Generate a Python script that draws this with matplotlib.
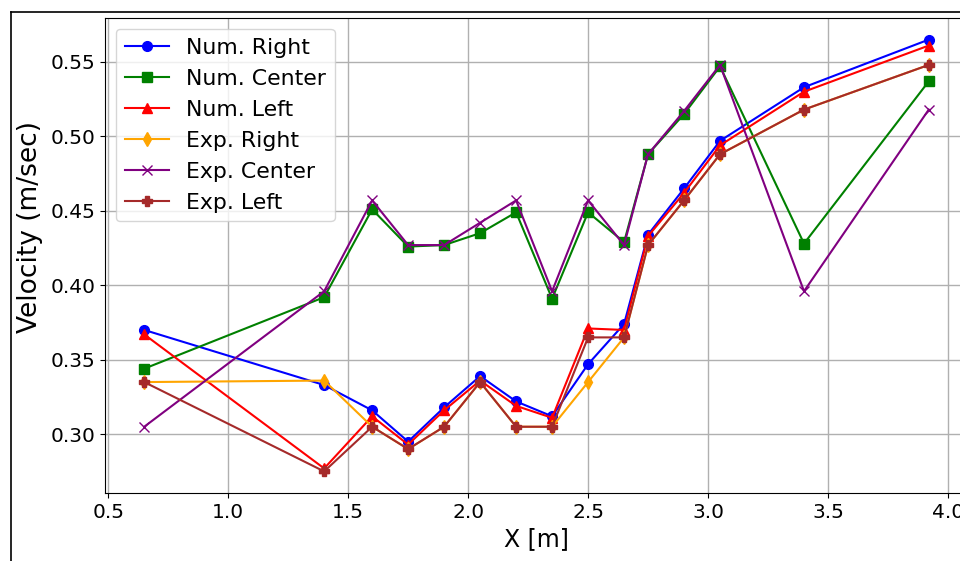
import matplotlib
matplotlib.use('Agg')
from matplotlib import pyplot as plt
from matplotlib.lines import Line2D

x = [0.65, 1.4, 1.6, 1.75, 1.9, 2.05, 2.2, 2.35, 2.5, 2.65, 2.75, 2.9, 3.05, 3.4, 3.92]

num_right = [0.370, 0.333, 0.316, 0.295, 0.318, 0.339, 0.322, 0.312, 0.347, 0.374,
             0.434, 0.465, 0.497, 0.533, 0.565]
num_center = [0.344, 0.392, 0.451, 0.426, 0.427, 0.435, 0.449, 0.391, 0.449, 0.429,
              0.488, 0.515, 0.547, 0.428, 0.537]
num_left = [0.367, 0.277, 0.312, 0.293, 0.316, 0.336, 0.319, 0.311, 0.371, 0.370,
            0.433, 0.462, 0.494, 0.530, 0.561]
exp_right = [0.335, 0.336, 0.305, 0.290, 0.305, 0.335, 0.305, 0.305, 0.335, 0.365,
             0.427, 0.457, 0.488, 0.518, 0.548]
exp_center = [0.305, 0.396, 0.457, 0.427, 0.427, 0.442, 0.457, 0.396, 0.457, 0.427,
              0.488, 0.517, 0.548, 0.396, 0.518]
exp_left = [0.335, 0.275, 0.305, 0.290, 0.305, 0.335, 0.305, 0.305, 0.365, 0.365,
            0.427, 0.457, 0.488, 0.518, 0.548]

series = [
    ("Num. Right", num_right, "blue", "o"),
    ("Num. Center", num_center, "green", "s"),
    ("Num. Left", num_left, "red", "^"),
    ("Exp. Right", exp_right, "orange", "d"),
    ("Exp. Center", exp_center, "purple", "x"),
    ("Exp. Left", exp_left, "brown", "P"),
]


def plot():
    fig = plt.figure(figsize=(9.6, 5.61), dpi=100)
    ax = fig.add_axes([105 / 960, 1 - 493 / 561, 863 / 960, 475 / 561])

    for label, y, color, marker in series:
        ax.plot(x, y, color=color, marker=marker, markersize=7, linewidth=1.5, label=label)

    ax.grid(True, color='#b0b0b0', linewidth=1.0)
    ax.tick_params(labelsize=14.5)
    ax.set_xlabel("X [m]", fontsize=17)
    ax.set_ylabel("Velocity (m/sec)", fontsize=19)
    ax.yaxis.set_label_coords(-0.072, 0.56)
    ax.legend(loc='upper left', fontsize=15.8, labelspacing=0.5)

    # screenshot frame
    fig.add_artist(Line2D([10.5 / 960, 10.5 / 960], [0, 1 - 11.5 / 561], color='black', linewidth=1.2))
    fig.add_artist(Line2D([10.5 / 960, 1], [1 - 11.5 / 561, 1 - 11.5 / 561], color='black', linewidth=1.2))

    fig.savefig("out.png", dpi=100)


if __name__ == '__main__':
    plot()
